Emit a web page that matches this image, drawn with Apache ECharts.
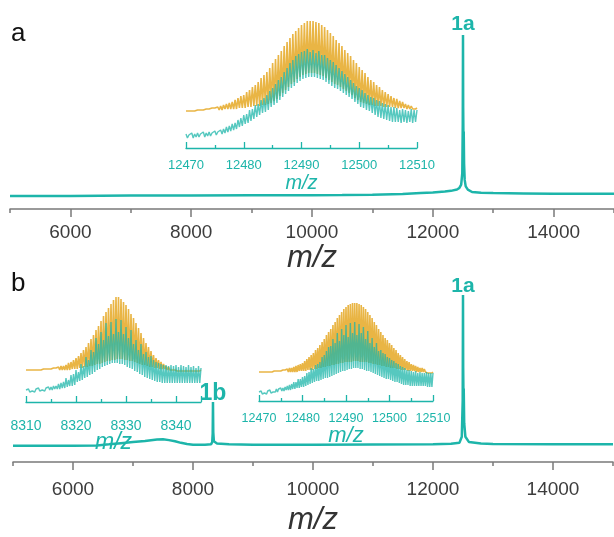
<!DOCTYPE html>
<html>
<head>
<meta charset="utf-8">
<script src="https://cdn.jsdelivr.net/npm/echarts@6/dist/echarts.min.js"></script>
<style>
html,body{margin:0;padding:0;background:#fff;}
#chart{width:614px;height:537px;}
</style>
</head>
<body>
<div id="chart"></div>
<script>
// ---------------- DATA ----------------
// Main spectrum, panel a (relative intensity, 1a peak = 100)
const mainA_mz  = [5000,6000,7000,8000,9000,10000,10500,11000,11500,11800,12000,12200,12300,12400,12440,12470,12488,12496,12500,12503,12507,12512,12518,12528,12545,12580,12650,12800,13000,13500,14000,15000];
const mainA_int = [0,0,0.3,0.3,0.5,0.5,0.6,0.8,1.2,1.8,2.2,2.8,3.2,4.0,5.0,7,14,45,100,55,38,40,20,10,6,4,2.5,2,1.8,1.6,1.4,1.4];

// Main spectrum, panel b
const mainB_mz  = [5000,6000,6400,6600,6800,7000,7200,7400,7500,7600,7700,7800,7900,8000,8200,8300,8320,8328,8333,8338,8348,8400,8600,9000,10000,11000,12000,12300,12440,12480,12495,12500,12503,12507,12512,12520,12540,12600,12800,13000,14000,15000];
const mainB_int = [0,0,0.3,1,1.8,2.5,3.2,4.2,4.4,3.8,3,2,1.2,0.8,0.8,1,2.5,8,29,9,3,1.6,1.0,0.8,0.8,0.9,1.0,1.4,2,6,30,100,52,36,38,15,6,2.5,1.5,1.2,1.1,1.1];

// Tick labels of the main axes
const mainTickMajor = [6000,8000,10000,12000,14000];
const mainTickMinor = [5000,7000,9000,11000,13000,15000];

// Inset a (m/z 12470-12510, isotope spikes every 0.5)
const insetA_start = 12470, insetA_step = 0.5;
const insetA_goldTop = [37,37,37,37,38,38,38,39,39,40, 40,41,42,43,44,45,46,48,50,52, 53,56,58,61,63,66,70,73,76,80, 85,89,93,97,102,106,110,114,117,120, 123,125,127,127,127,126,125,123,121,118, 115,112,108,105,102,98,95,92,88,85, 81,78,75,71,68,66,63,61,58,56, 54,52,50,49,47,46,44,43,42,41, 40];
const insetA_goldLow = [36,36,36,36,37,37,37,37,37,38, 38,38,38,39,39,39,39,39,40,40, 40,41,41,42,42,42,43,43,44,45, 47,49,52,55,58,61,64,66,69,71, 73,74,75,75,75,74,73,72,70,68, 66,64,63,61,59,57,55,53,50,48, 46,45,44,43,43,42,42,42,41,41, 41,41,40,40,40,40,39,39,39,39];
const insetA_tealTop = [14,13,15,14,15,14,16,15,16,15, 17,16,18,19,21,22,24,25,28,30, 33,34,38,39,43,44,48,50,53,57, 60,64,68,71,76,80,85,88,92,94, 96,97,99,96,98,95,97,93,93,90, 88,86,83,80,77,74,71,68,65,62, 60,58,55,53,51,50,48,47,45,44, 43,41,41,40,38,39,38,37,39,38, 38];
const insetA_tealLow = [10,11,10,11,11,12,11,12,12,13, 13,14,14,15,16,17,18,19,21,22, 24,25,27,29,31,33,35,36,38,41, 43,45,48,51,54,57,60,62,65,67, 69,70,71,71,71,70,69,68,66,64, 62,60,59,57,55,53,51,49,46,44, 41,40,38,37,35,33,31,30,29,28, 27,26,26,26,25,26,25,26,25,26];

// Inset b-left (m/z 8310-8345)
const insetBL_start = 8310, insetBL_step = 0.5;
const insetBL_goldTop = [32,32,32,32,32,32,32,33,33,33, 33,34,34,35,36,36,37,39,40,42, 44,46,49,52,55,59,63,67,72,76, 81,86,90,94,98,102,105,105,103,100, 97,93,88,84,79,74,69,64,59,55, 51,47,44,42,40,38,36,35,34,34, 33,33,33,32,32,32,32,32,32,32, 32];
const insetBL_goldLow = [31,31,31,31,31,31,31,31,31,31, 32,32,32,32,32,32,32,32,33,33, 33,34,34,35,35,36,36,37,38,38, 39,40,41,41,42,42,43,43,43,42, 42,41,41,40,39,38,37,37,36,35, 35,34,34,33,33,33,32,32,32,32, 31,31,31,31,31,31,31,31,31,31];
const insetBL_tealTop = [12,13,12,13,13,14,13,14,14,15, 15,16,16,18,19,20,24,22,27,28, 32,30,38,36,45,42,52,50,64,58, 70,62,79,66,80,68,83,70,82,68, 75,64,72,58,62,52,58,48,50,45, 46,42,40,39,38,37,37,36,37,36, 37,35,37,36,35,37,35,36,34,36, 34];
const insetBL_tealLow = [10,10,11,10,11,11,12,11,12,12, 12,13,13,13,14,14,15,16,16,17, 20,21,22,24,25,27,28,30,32,33, 35,36,37,38,39,39,39,38,38,37, 35,34,33,31,30,28,27,25,24,23, 22,21,20,20,19,19,19,19,19,19, 19,19,19,19,19,19,19,19,19,19];

// Inset b-right (m/z 12470-12510)
const insetBR_start = 12470, insetBR_step = 0.5;
const insetBR_goldTop = [29,29,29,29,29,29,29,30,30,30, 30,31,31,32,33,33,34,35,36,37, 38,40,42,44,46,48,51,53,56,59, 62,66,69,72,76,79,83,86,89,92, 94,96,97,98,98,98,97,96,94,92, 89,86,83,79,76,72,69,66,63,61, 58,56,53,51,48,46,44,42,40,39, 37,36,35,34,33,33,32,31,30,30, 29];
const insetBR_goldLow = [28,28,28,28,28,28,28,28,28,28, 29,29,29,29,29,29,29,29,30,30, 30,30,31,31,31,32,32,33,33,34, 34,35,35,36,36,37,37,38,38,39, 39,39,39,40,40,40,39,39,39,39, 38,38,37,37,36,36,35,35,34,34, 33,33,33,32,32,31,31,31,30,30, 30,30,29,29,29,29,29,28,28,28];
const insetBR_tealTop = [9,10,9,10,10,11,10,11,12,12, 13,13,14,15,16,17,19,19,22,22, 24,25,28,29,33,32,36,37,39,44, 46,50,54,55,62,58,68,60,72,66, 76,64,78,68,79,66,77,68,74,62, 70,58,63,54,58,50,51,48,47,44, 43,41,40,38,37,35,34,33,31,31, 30,29,30,28,29,28,28,29,28,28, 28];
const insetBR_tealLow = [7,7,8,7,8,8,9,9,9,10, 10,10,11,11,11,12,12,13,13,14, 14,15,16,17,18,19,20,20,21,22, 23,23,24,25,26,27,28,29,30,30, 31,32,32,33,33,33,32,32,31,30, 30,29,28,27,26,25,24,23,22,22, 21,20,19,19,18,17,16,16,16,15, 15,15,15,15,15,15,15,14,14,14];

// Peak labels
const peakLabels = [
  {mz:12500, text:'1a'},
  {mz:12500, text:'1a'},
  {mz:8333,  text:'1b'}
];

// ---------------- STYLE ----------------
const TEAL = '#1db5aa';
const GOLD = '#e9b545';
const FONT = 'Liberation Sans, Arial, Helvetica, sans-serif';

function pairs(xs, ys){ return xs.map((x,i)=>[x, ys[i]]); }
function spikes(start, step, tops, lows){
  const out = [];
  for (let i=0;i<tops.length;i++){
    out.push([start + i*step, tops[i]]);
    if (i < lows.length) out.push([start + i*step + step/2, lows[i]]);
  }
  return out;
}
function peakValue(xs, ys, mz){ return ys[xs.indexOf(mz)]; }

const chart = echarts.init(document.getElementById('chart'), null, {renderer:'canvas'});

function mainMajor(grid, margin, nameGap){
  return {type:'value', gridIndex:grid, min:5000, max:15000, position:'bottom',
    axisLine:{show:true, onZero:false, lineStyle:{color:'#7a7a7a', width:1.5}},
    axisTick:{show:true, length:8, lineStyle:{color:'#7a7a7a', width:1.5}, customValues: mainTickMajor},
    axisLabel:{show:true, customValues: mainTickMajor, margin:margin, fontSize:19, color:'#3c3c3c', fontFamily:FONT, formatter:v=>String(v)},
    splitLine:{show:false},
    name:'m/z', nameLocation:'middle', nameGap:nameGap, nameMoveOverlap:false,
    nameTextStyle:{fontSize:31, fontStyle:'italic', color:'#333', fontFamily:FONT}};
}
function mainMinor(grid){
  return {type:'value', gridIndex:grid, min:5000, max:15000, position:'bottom',
    axisLine:{show:false, onZero:false},
    axisTick:{show:true, length:4, lineStyle:{color:'#7a7a7a', width:1.5}, customValues: mainTickMinor},
    axisLabel:{show:false}, splitLine:{show:false}};
}
function insetMajor(grid, min, max, majors, fs, margin, nfs, nameGap){
  return {type:'value', gridIndex:grid, min:min, max:max, position:'bottom',
    axisLine:{show:true, onZero:false, lineStyle:{color:TEAL, width:1.3}},
    axisTick:{show:true, inside:true, length:6, lineStyle:{color:TEAL, width:1.3}, customValues: majors},
    axisLabel:{show:true, customValues: majors.filter(v=>v%10===0), margin:margin, fontSize:fs, color:TEAL, fontFamily:FONT, formatter:v=>String(v)},
    splitLine:{show:false},
    name:'m/z', nameLocation:'middle', nameGap:nameGap, nameMoveOverlap:false,
    nameTextStyle:{fontSize:nfs, fontStyle:'italic', color:TEAL, fontFamily:FONT}};
}
function insetMinor(grid, min, max, minors){
  return {type:'value', gridIndex:grid, min:min, max:max, position:'bottom',
    axisLine:{show:false, onZero:false},
    axisTick:{show:true, inside:true, length:3, lineStyle:{color:TEAL, width:1.3}, customValues: minors},
    axisLabel:{show:false}, splitLine:{show:false}};
}

const grids = [
  {left:10,  top:35,  width:604, height:174},  // main a
  {left:13,  top:295, width:600, height:176},  // main b
  {left:186, top:21,  width:231, height:127},  // inset a
  {left:26,  top:296, width:175, height:106},  // inset b-left
  {left:259, top:303, width:174, height:98}    // inset b-right
];

const xAxes = [
  mainMajor(0, 14, 34), mainMinor(0),
  mainMajor(1, 18, 43), mainMinor(1),
  insetMajor(2, 12470, 12510, [12470,12480,12490,12500,12510], 13, 11, 20, 25),
  insetMinor(2, 12470, 12510, [12475,12485,12495,12505]),
  insetMajor(3, 8310, 8345, [8310,8320,8330,8340,8345], 14, 17, 23, 29),
  insetMinor(3, 8310, 8345, [8315,8325,8335]),
  insetMajor(4, 12470, 12510, [12470,12480,12490,12500,12510], 12.5, 11, 22, 24),
  insetMinor(4, 12470, 12510, [12475,12485,12495,12505])
];

const yAxes = [
  {type:'value', gridIndex:0, min:-8.07, max:100, show:false},
  {type:'value', gridIndex:1, min:-10.7, max:100, show:false},
  {type:'value', gridIndex:2, min:0, max:127, show:false},
  {type:'value', gridIndex:3, min:0, max:106, show:false},
  {type:'value', gridIndex:4, min:0, max:98, show:false}
];

function peakMark(xs, ys, mz, text, dy){
  return {coord:[mz, peakValue(xs, ys, mz)], value:text,
    symbol:'circle', symbolSize:0,
    label:{show:true, position:'inside', offset:[0,dy], formatter:text,
      fontSize: text==='1b'?23:21, fontWeight:'bold', color:TEAL, fontFamily:FONT}};
}

const lineBase = {type:'line', showSymbol:false, symbol:'none', silent:true, animation:false};
const WG = 1.6, WT = 1.4, TA = 0.75;

const series = [
  Object.assign({}, lineBase, {xAxisIndex:0, yAxisIndex:0, data:pairs(mainA_mz, mainA_int),
    lineStyle:{color:TEAL, width:2.5}, itemStyle:{color:TEAL},
    markPoint:{silent:true, animation:false, data:[peakMark(mainA_mz, mainA_int, peakLabels[0].mz, peakLabels[0].text, -11)]}}),
  Object.assign({}, lineBase, {xAxisIndex:2, yAxisIndex:1, data:pairs(mainB_mz, mainB_int),
    lineStyle:{color:TEAL, width:2.5}, itemStyle:{color:TEAL},
    markPoint:{silent:true, animation:false, data:[
      peakMark(mainB_mz, mainB_int, peakLabels[1].mz, peakLabels[1].text, -9),
      peakMark(mainB_mz, mainB_int, peakLabels[2].mz, peakLabels[2].text, -8)]}}),
  Object.assign({}, lineBase, {xAxisIndex:4, yAxisIndex:2, data:spikes(insetA_start, insetA_step, insetA_goldTop, insetA_goldLow),
    lineStyle:{color:GOLD, width:WG}, itemStyle:{color:GOLD}}),
  Object.assign({}, lineBase, {xAxisIndex:4, yAxisIndex:2, data:spikes(insetA_start, insetA_step, insetA_tealTop, insetA_tealLow),
    lineStyle:{color:TEAL, width:WT, opacity:TA}, itemStyle:{color:TEAL}}),
  Object.assign({}, lineBase, {xAxisIndex:6, yAxisIndex:3, data:spikes(insetBL_start, insetBL_step, insetBL_goldTop, insetBL_goldLow),
    lineStyle:{color:GOLD, width:WG}, itemStyle:{color:GOLD}}),
  Object.assign({}, lineBase, {xAxisIndex:6, yAxisIndex:3, data:spikes(insetBL_start, insetBL_step, insetBL_tealTop, insetBL_tealLow),
    lineStyle:{color:TEAL, width:WT, opacity:TA}, itemStyle:{color:TEAL}}),
  Object.assign({}, lineBase, {xAxisIndex:8, yAxisIndex:4, data:spikes(insetBR_start, insetBR_step, insetBR_goldTop, insetBR_goldLow),
    lineStyle:{color:GOLD, width:WG}, itemStyle:{color:GOLD}}),
  Object.assign({}, lineBase, {xAxisIndex:8, yAxisIndex:4, data:spikes(insetBR_start, insetBR_step, insetBR_tealTop, insetBR_tealLow),
    lineStyle:{color:TEAL, width:WT, opacity:TA}, itemStyle:{color:TEAL}})
];

chart.setOption({
  animation:false,
  backgroundColor:'#ffffff',
  title:[
    {text:'a', left:11, top:21, padding:0, textStyle:{fontSize:26, fontWeight:'normal', color:'#111', fontFamily:FONT}},
    {text:'b', left:11, top:271, padding:0, textStyle:{fontSize:26, fontWeight:'normal', color:'#111', fontFamily:FONT}}
  ],
  grid:grids,
  xAxis:xAxes,
  yAxis:yAxes,
  series:series
});
</script>
</body>
</html>
